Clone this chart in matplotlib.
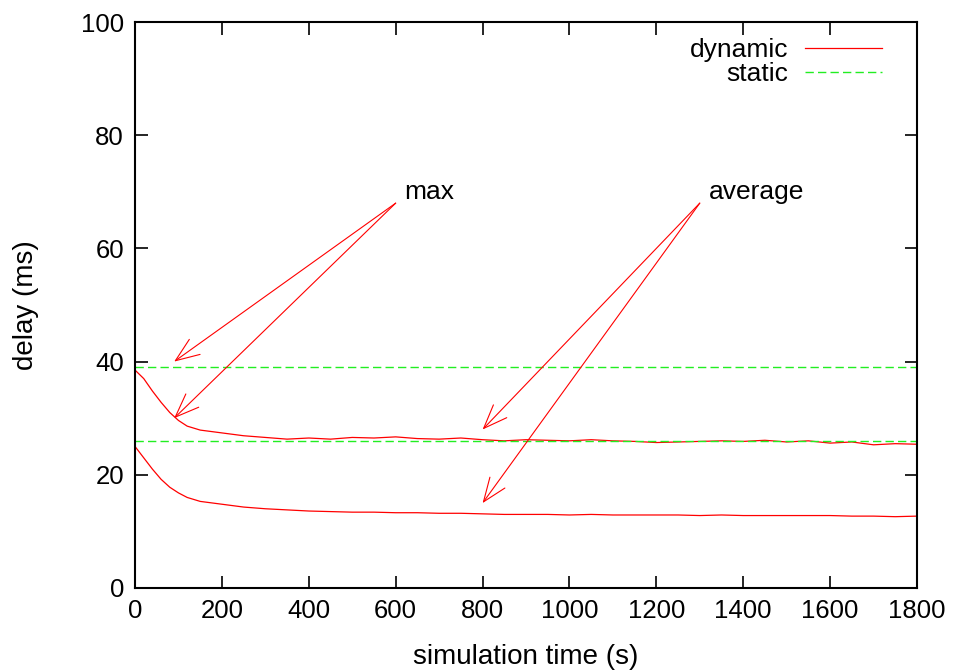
import numpy as np
import matplotlib.pyplot as plt

plt.rcParams['font.family'] = ['Liberation Sans', 'DejaVu Sans']
plt.rcParams['font.size'] = 19

# values (simulation time in s, delay in ms)
t = [0, 20, 40, 60, 80, 100, 120, 150, 180, 210, 250, 300, 350, 400, 450, 500,
     550, 600, 650, 700, 750, 800, 850, 900, 950, 1000, 1050, 1100, 1150, 1200,
     1250, 1300, 1350, 1400, 1450, 1500, 1550, 1600, 1650, 1700, 1750, 1800]
max_delay = [38.5, 37.0, 34.8, 32.8, 31.0, 29.6, 28.6, 27.9, 27.6, 27.3, 26.9, 26.6,
             26.3, 26.5, 26.3, 26.6, 26.5, 26.7, 26.4, 26.3, 26.5, 26.2, 26.0, 26.2,
             26.1, 26.0, 26.2, 26.0, 25.9, 25.7, 25.8, 25.9, 26.0, 25.9, 26.1, 25.8,
             26.0, 25.6, 25.8, 25.3, 25.5, 25.4]
avg_delay = [25.0, 23.0, 21.0, 19.2, 17.8, 16.8, 16.0, 15.3, 15.0, 14.7, 14.3, 14.0,
             13.8, 13.6, 13.5, 13.4, 13.4, 13.3, 13.3, 13.2, 13.2, 13.1, 13.0, 13.0,
             13.0, 12.9, 13.0, 12.9, 12.9, 12.9, 12.9, 12.8, 12.9, 12.8, 12.8, 12.8,
             12.8, 12.8, 12.7, 12.7, 12.6, 12.7]
static_max = 39.0
static_avg = 26.0

fig = plt.figure(figsize=(9.55, 6.71), dpi=100)
ax = fig.add_axes([0.1414, 0.1237, 0.8188, 0.8435])

green = '#22ee22'
ax.plot(t, max_delay, color='red', lw=0.9, label='dynamic')
ax.plot(t, avg_delay, color='red', lw=0.9)
ax.axhline(static_max, color=green, lw=1.0, ls=(0, (6, 3)), label='static')
ax.axhline(static_avg, color=green, lw=1.0, ls=(0, (6, 3)))

# annotations with two arrows each
arrow = dict(arrowstyle='->,head_length=0.9,head_width=0.35', color='red',
             lw=0.8, shrinkA=0, shrinkB=0)
for target in [(90, 40), (90, 30)]:
    ax.annotate('', xy=target, xytext=(600, 68), arrowprops=arrow)
for target in [(800, 28), (800, 15)]:
    ax.annotate('', xy=target, xytext=(1300, 68), arrowprops=arrow)
ax.text(620, 70, 'max', ha='left', va='center')
ax.text(1320, 70, 'average', ha='left', va='center')

ax.set_xlim(0, 1800)
ax.set_ylim(0, 100)
ax.set_xticks(range(0, 1801, 200))
ax.set_yticks(range(0, 101, 20))
ax.tick_params(direction='in', length=9, width=1.2, top=True, right=True, pad=8,
               labelsize=18.5)
for s in ax.spines.values():
    s.set_linewidth(1.5)
ax.set_xlabel('simulation time (s)', fontsize=20, labelpad=15)
ax.set_ylabel('delay (ms)', fontsize=20, labelpad=30)

leg = ax.legend(loc='upper right', frameon=False, markerfirst=False,
                handlelength=2.9, borderaxespad=0.2, labelspacing=0.0,
                handletextpad=0.65, bbox_to_anchor=(0.975, 1.0))
for txt in leg.get_texts():
    txt.set_ha('right')

fig.savefig('out.png', dpi=100)
